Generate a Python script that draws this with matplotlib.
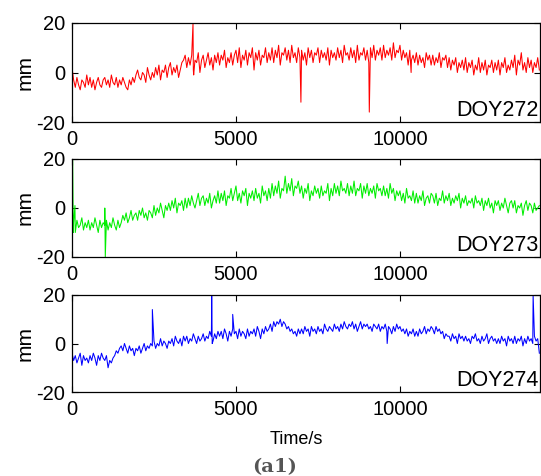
import numpy as np
import matplotlib
matplotlib.use("Agg")
import matplotlib.pyplot as plt

plt.rcParams['font.family'] = ['Liberation Sans', 'DejaVu Sans']
plt.rcParams['axes.unicode_minus'] = False

step = 50  # s between listed samples
doy272 = [2, -3, -6, -2, -5, -7, -3, -4, -6, -1,
          -5, -2, -6, -3, -7, -4, -2, -5, -6, -3,
          -2, -5, -3, -6, -1, -4, -5, -2, -6, -3,
          -5, -2, -4, -6, -7, -3, -5, -2, -4, -1,
          1, -2, -3, 0, -1, -4, 2, -1, -3, 0,
          -2, 2, -1, 3, -3, 1, 0, 3, -2, 2,
          4, -1, 2, 0, 3, -2, 1, 4, 5, 7,
          2, 6, 3, 7, 1, 5, 4, 8, 0, 5,
          7, 2, 5, 8, 3, 6, 1, 7, 4, 8,
          3, 7, 5, 9, 2, 6, 4, 8, 3, 7,
          9, 4, 10, 2, 7, 5, 9, 3, 8, 6,
          10, 1, 8, 5, 9, 3, 7, 6, 10, 4,
          8, 5, 10, 4, 9, 6, 11, 3, 8, 7,
          10, 5, 9, 4, 11, 6, 8, 4, 10, 6,
          9, 5, 8, 3, 10, 6, 9, 4, 8, 7,
          10, 4, 9, 6, 8, 5, 10, 3, 9, 6,
          8, 5, 10, 6, 9, 4, 11, 7, 8, 5,
          10, 6, 9, 4, 11, 5, 8, 7, 10, 5,
          9, 4, 10, 6, 11, 5, 9, 7, 10, 5,
          11, 6, 9, 7, 10, 5, 12, 6, 9, 8,
          11, 5, 9, 6, 8, 3, 9, 5, 7, 4,
          8, 3, 7, 4, 6, 2, 8, 5, 7, 3,
          7, 3, 6, 4, 8, 2, 6, 5, 7, 2,
          6, 1, 5, 3, 6, 0, 4, 2, 5, 1,
          6, 0, 4, 2, 5, -1, 3, 1, 6, 0,
          4, 1, 5, -1, 3, 2, 5, 0, 4, 1,
          5, -1, 4, 2, 6, 0, 3, 1, 5, 2,
          7, -1, 5, 3, 8, 1, 4, 0, 6, 2,
          5, 0, 4, 2, 6, 1]
doy273 = [-9, -6, -10, -5, -8, -7, -4, -9, -6, -8,
          -5, -9, -6, -8, -4, -7, -10, -5, -8, -6,
          -7, -5, -9, -6, -8, -4, -7, -9, -5, -8,
          -6, -3, -5, -2, -6, -4, -1, -5, -3, -2,
          -5, -1, -3, 0, -4, -2, -5, -1, -2, -4,
          1, -3, 0, -2, 2, -1, -4, 1, -1, 2,
          -1, 3, 0, 4, -2, 2, 1, 3, -1, 4,
          0, 4, 1, 5, 2, 0, 3, 6, 1, 4,
          5, 1, 4, 2, 6, 0, 3, 5, 2, 7,
          2, 6, 3, 7, 1, 5, 4, 8, 3, 6,
          9, 3, 6, 2, 7, 5, 8, 1, 6, 4,
          7, 3, 8, 4, 6, 2, 9, 5, 7, 3,
          8, 4, 10, 5, 9, 6, 11, 4, 8, 7,
          13, 6, 10, 7, 12, 5, 9, 8, 11, 6,
          9, 4, 8, 6, 10, 3, 7, 5, 9, 6,
          8, 4, 9, 5, 7, 6, 10, 3, 8, 5,
          10, 6, 9, 5, 11, 7, 8, 6, 10, 5,
          9, 6, 11, 5, 8, 7, 10, 4, 9, 6,
          10, 5, 8, 6, 9, 4, 10, 7, 8, 5,
          9, 5, 8, 4, 10, 6, 8, 3, 7, 5,
          7, 3, 6, 2, 8, 4, 5, 3, 7, 2,
          6, 2, 5, 3, 7, 1, 4, 5, 2, 6,
          5, 2, 6, 1, 4, 3, 7, 2, 5, 3,
          6, 1, 4, 2, 5, 3, 6, 0, 4, 2,
          5, 1, 3, 2, 4, 0, 5, 2, 3, 1,
          4, -1, 3, 1, 4, 0, 2, -2, 3, 1,
          3, -1, 2, 0, 4, 1, -2, 2, 3, 0,
          3, -2, 1, 0, 2, -3, 1, 3, -1, 2,
          1, -2, 2, -1, 0, 1]
doy274 = [-4, -7, -5, -8, -6, -4, -9, -5, -7, -6,
          -8, -5, -7, -4, -6, -9, -5, -7, -4, -6,
          -7, -5, -10, -7, -8, -6, -5, -3, -4, -2,
          -1, -3, 0, -2, -4, -1, -3, -2, -5, -2,
          -3, -1, -4, -2, 0, -3, -1, -2, 0, -1,
          1, -2, 0, -1, 2, -1, 1, 0, -2, 1,
          0, 2, -1, 3, 1, 0, 2, -1, 3, 1,
          3, 0, 2, 1, 4, 2, 0, 3, 1, 2,
          4, 1, 3, 2, 5, 3, 1, 4, 2, 5,
          3, 5, 2, 6, 4, 1, 5, 3, 6, 4,
          5, 2, 6, 3, 5, 4, 2, 6, 3, 5,
          4, 6, 3, 7, 5, 2, 6, 4, 7, 5,
          6, 8, 5, 9, 7, 9, 8, 10, 7, 9,
          8, 6, 7, 5, 6, 4, 5, 3, 6, 4,
          6, 4, 7, 5, 6, 3, 7, 5, 6, 4,
          7, 5, 6, 4, 8, 6, 5, 7, 6, 5,
          8, 6, 7, 5, 8, 6, 9, 7, 6, 8,
          7, 9, 6, 8, 5, 7, 9, 6, 8, 7,
          8, 6, 7, 5, 8, 7, 6, 8, 5, 7,
          6, 8, 5, 7, 6, 4, 7, 5, 8, 6,
          7, 5, 6, 4, 6, 3, 5, 4, 6, 3,
          5, 3, 6, 4, 5, 7, 4, 6, 5, 7,
          6, 4, 7, 5, 6, 4, 5, 2, 4, 3,
          3, 1, 4, 2, 3, 0, 4, 2, 3, 1,
          3, 1, 2, 0, 3, 2, 4, 1, 2, 0,
          3, 1, 2, 4, 0, 2, 3, 1, 2, 0,
          2, 0, 3, 1, 2, -1, 3, 1, 2, 0,
          3, 0, 2, 1, 3, -1, 2, 0, 3, 1,
          2, 0, 3, 1, 2, -4]

# spikes (time s, value mm)
spikes272_t = [3690, 3710, 6980, 9065, 10340]
spikes272_v = [20, -1, -12, -16, 0]
spikes273_t = [20, 40, 90, 1000, 1015]
spikes273_v = [20, -10, 1, 0, -20]
spikes274_t = [2450, 4260, 4275, 4900, 9610, 14060]
spikes274_v = [14, 20, 0, 12, 0, 20]

labels = ['DOY272', 'DOY273', 'DOY274']
colors = ['#ff0000', '#00ee00', '#0000ff']
series = [doy272, doy273, doy274]
spk_t = [spikes272_t, spikes273_t, spikes274_t]
spk_v = [spikes272_v, spikes273_v, spikes274_v]

W, H = 541, 476
fig = plt.figure(figsize=(W / 100, H / 100), dpi=100)
boxes = [(23, 122), (159, 257), (295, 392)]
left, right = 72, 540
xmax = 14270

for i in range(3):
    top, bot = boxes[i]
    ax = fig.add_axes([left / W, 1 - bot / H, (right - left) / W, (bot - top) / H])
    t = np.arange(len(series[i])) * step
    v = np.array(series[i], dtype=float)
    tt = np.concatenate([t, spk_t[i]])
    vv = np.concatenate([v, spk_v[i]])
    order = np.argsort(tt, kind='stable')
    ax.plot(tt[order], vv[order], color=colors[i], lw=0.75)
    ax.set_xlim(0, xmax)
    ax.set_ylim(-20, 20)
    ax.set_xticks([0, 5000, 10000])
    ax.set_yticks([-20, 0, 20])
    ax.tick_params(direction='in', top=True, right=True, labelsize=14.5, length=4, width=0.8)
    ax.tick_params(axis='x', pad=6)
    ax.tick_params(axis='y', pad=5)
    for s in ax.spines.values():
        s.set_linewidth(0.9)
    ax.set_ylabel('mm', fontsize=15, labelpad=1)
    ax.text(0.996, 0.06, labels[i], transform=ax.transAxes, ha='right', va='baseline', fontsize=15.5)

fig.text(296 / W, 1 - 440 / H, 'Time/s', ha='center', va='center', fontsize=13)
fig.text(275 / W, 1 - 467 / H, '(a1)', ha='center', va='center', fontsize=14,
         family='DejaVu Serif', fontweight='bold', color='#555555')

fig.savefig('out.png', dpi=100)
